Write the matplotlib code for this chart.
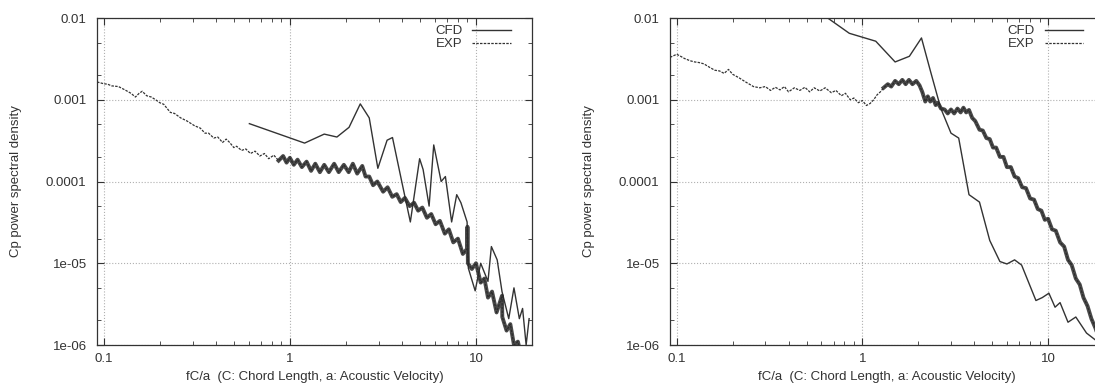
import matplotlib
matplotlib.use("Agg")
import matplotlib.pyplot as plt
from matplotlib.ticker import FixedLocator, FixedFormatter, LogLocator, NullFormatter

plt.rcParams['font.family'] = ['Liberation Sans', 'DejaVu Sans']

# ---- left panel data ----
cfd1_x = [0.606, 1.2, 1.53, 1.79, 2.08, 2.39, 2.67, 2.97, 3.33, 3.56, 4.03, 4.44, 4.98, 5.2, 5.6,
          5.93, 6.5, 6.85, 7.4, 7.88, 8.3, 8.96, 9.1, 9.9, 10.6, 11.6, 12.1, 13.0, 13.8, 15.0,
          16.0, 17.1, 17.8, 18.6, 19.3]
cfd1_y = [5.1e-4, 2.95e-4, 3.8e-4, 3.5e-4, 4.6e-4, 8.9e-4, 6.0e-4, 1.45e-4, 3.2e-4, 3.45e-4,
          9.0e-5, 3.2e-5, 1.9e-4, 1.4e-4, 5.0e-5, 2.8e-4, 1.0e-4, 1.15e-4, 3.2e-5, 6.9e-5,
          5.5e-5, 3.2e-5, 8.7e-6, 4.6e-6, 1.0e-5, 6.0e-6, 1.6e-5, 1.1e-5, 4.5e-6, 2.1e-6,
          5.0e-6, 2.1e-6, 2.8e-6, 1.0e-6, 2.1e-6]

exp1_x = [0.092, 0.1, 0.105, 0.11, 0.12, 0.13, 0.14, 0.148, 0.155, 0.161, 0.17, 0.18, 0.19, 0.2,
          0.21, 0.228, 0.24, 0.259, 0.28, 0.308, 0.33, 0.35, 0.366, 0.39, 0.41, 0.435, 0.455,
          0.475, 0.5, 0.517, 0.55, 0.58, 0.614, 0.65, 0.69, 0.73, 0.77, 0.82, 0.87, 0.92, 0.96,
          1.0, 1.05, 1.1, 1.16, 1.23, 1.3, 1.37, 1.45, 1.53, 1.62, 1.73, 1.83, 1.95, 2.07, 2.18,
          2.3, 2.45, 2.55, 2.67, 2.8, 2.95, 3.17, 3.35, 3.55, 3.75, 3.94, 4.15, 4.4, 4.65, 4.89,
          5.15, 5.45, 5.75, 6.07, 6.4, 6.8, 7.15, 7.55, 8.0, 8.5, 8.96, 9.0, 9.05, 9.5, 10.0,
          10.6, 11.1, 11.6, 12.2, 12.9, 13.8, 13.85, 14.6, 15.3, 16.0, 16.8, 17.7]
exp1_y = [1.65e-3, 1.57e-3, 1.55e-3, 1.48e-3, 1.45e-3, 1.32e-3, 1.2e-3, 1.08e-3, 1.2e-3, 1.27e-3,
          1.12e-3, 1.08e-3, 1.0e-3, 9.2e-4, 8.8e-4, 7.0e-4, 6.8e-4, 6.0e-4, 5.5e-4, 4.8e-4,
          4.5e-4, 3.9e-4, 3.9e-4, 3.4e-4, 3.5e-4, 3.0e-4, 3.3e-4, 3.0e-4, 2.6e-4, 2.7e-4,
          2.4e-4, 2.5e-4, 2.2e-4, 2.35e-4, 2.05e-4, 2.2e-4, 1.9e-4, 2.1e-4, 1.8e-4, 2.05e-4,
          1.7e-4, 1.95e-4, 1.6e-4, 1.85e-4, 1.5e-4, 1.75e-4, 1.35e-4, 1.65e-4, 1.3e-4, 1.6e-4,
          1.3e-4, 1.65e-4, 1.3e-4, 1.6e-4, 1.3e-4, 1.65e-4, 1.25e-4, 1.55e-4, 1.15e-4, 1.15e-4,
          9.0e-5, 1.0e-4, 7.5e-5, 8.5e-5, 6.5e-5, 7.0e-5, 5.6e-5, 6.3e-5, 5.0e-5, 5.5e-5,
          4.4e-5, 4.8e-5, 3.6e-5, 4.0e-5, 3.0e-5, 3.3e-5, 2.3e-5, 2.6e-5, 1.8e-5, 2.0e-5,
          1.3e-5, 1.5e-5, 2.8e-5, 1.0e-5, 8.5e-6, 1.0e-5, 5.8e-6, 6.5e-6, 3.8e-6, 4.5e-6,
          2.5e-6, 4.0e-6, 2.2e-6, 1.5e-6, 1.8e-6, 1.0e-6, 1.1e-6, 6.5e-7]

# ---- right panel data ----
cfd2_x = [0.65, 0.85, 1.18, 1.5, 1.79, 2.08, 2.33, 2.64, 3.0, 3.3, 3.75, 4.27, 4.85, 5.5, 6.0,
          6.6, 7.2, 8.6, 9.3, 10.1, 10.9, 11.6, 12.8, 14.1, 16.1, 18.0, 20.0]
cfd2_y = [1.0e-2, 6.5e-3, 5.2e-3, 2.9e-3, 3.4e-3, 5.7e-3, 2.2e-3, 7.9e-4, 3.9e-4, 3.4e-4,
          6.9e-5, 5.6e-5, 1.9e-5, 1.05e-5, 9.8e-6, 1.1e-5, 9.5e-6, 3.5e-6, 3.8e-6, 4.3e-6,
          2.9e-6, 3.3e-6, 1.9e-6, 2.2e-6, 1.4e-6, 1.15e-6, 1.0e-6]

exp2_x = [0.092, 0.1, 0.105, 0.11, 0.118, 0.125, 0.132, 0.14, 0.15, 0.16, 0.17, 0.18, 0.19, 0.2,
          0.217, 0.235, 0.259, 0.28, 0.30, 0.32, 0.34, 0.36, 0.38, 0.40, 0.43, 0.46, 0.49, 0.52,
          0.55, 0.59, 0.63, 0.68, 0.72, 0.77, 0.81, 0.86, 0.9, 0.95, 1.0, 1.05, 1.1, 1.15, 1.2,
          1.25, 1.3, 1.37, 1.43, 1.5, 1.57, 1.64, 1.71, 1.78, 1.86, 1.95, 2.03, 2.1, 2.18, 2.25,
          2.32, 2.4, 2.48, 2.55, 2.65, 2.77, 2.88, 3.0, 3.12, 3.25, 3.38, 3.5, 3.62, 3.75, 3.9,
          4.05, 4.27, 4.45, 4.65, 4.85, 5.05, 5.25, 5.5, 5.75, 6.0, 6.3, 6.6, 6.9, 7.25, 7.6,
          8.0, 8.4, 8.8, 9.2, 9.6, 10.0, 10.5, 11.0, 11.6, 12.2, 12.8, 13.4, 14.1, 14.8, 15.5,
          16.3, 17.1, 18.0, 19.0, 20.0]
exp2_y = [3.3e-3, 3.6e-3, 3.4e-3, 3.2e-3, 3.0e-3, 2.9e-3, 2.85e-3, 2.75e-3, 2.5e-3, 2.3e-3,
          2.25e-3, 2.1e-3, 2.35e-3, 2.05e-3, 1.85e-3, 1.65e-3, 1.45e-3, 1.4e-3, 1.45e-3, 1.3e-3,
          1.42e-3, 1.32e-3, 1.45e-3, 1.25e-3, 1.4e-3, 1.3e-3, 1.42e-3, 1.25e-3, 1.4e-3, 1.28e-3,
          1.4e-3, 1.22e-3, 1.3e-3, 1.12e-3, 1.2e-3, 1.0e-3, 1.05e-3, 9.2e-4, 9.8e-4, 8.5e-4,
          9.0e-4, 1.0e-3, 1.15e-3, 1.25e-3, 1.4e-3, 1.55e-3, 1.45e-3, 1.7e-3, 1.55e-3, 1.75e-3,
          1.55e-3, 1.75e-3, 1.55e-3, 1.7e-3, 1.5e-3, 1.25e-3, 9.5e-4, 1.1e-3, 9.5e-4, 1.05e-3,
          8.6e-4, 9.2e-4, 7.8e-4, 7.6e-4, 6.8e-4, 7.6e-4, 6.8e-4, 7.8e-4, 7.0e-4, 8.0e-4,
          7.0e-4, 7.5e-4, 6.0e-4, 5.5e-4, 4.3e-4, 4.2e-4, 3.4e-4, 3.3e-4, 2.6e-4, 2.6e-4,
          2.0e-4, 2.0e-4, 1.5e-4, 1.5e-4, 1.15e-4, 1.1e-4, 8.5e-5, 8.3e-5, 6.2e-5, 6.0e-5,
          4.6e-5, 4.4e-5, 3.4e-5, 3.5e-5, 2.6e-5, 2.5e-5, 1.8e-5, 1.6e-5, 1.1e-5, 9.5e-6,
          6.5e-6, 5.5e-6, 3.8e-6, 3.0e-6, 2.1e-6, 1.6e-6, 1.1e-6, 8e-7]

y_ticks = [1e-6, 1e-5, 1e-4, 1e-3, 1e-2]
y_labels = ['1e-06', '1e-05', '0.0001', '0.001', '0.01']
x_ticks = [0.1, 1, 10]
x_labels = ['0.1', '1', '10']

ink = '#333333'
fs = 9.5
fig = plt.figure(figsize=(10.95, 3.87), dpi=100)
ax1 = fig.add_axes([97 / 1095, 1 - 345 / 387, 435 / 1095, 327 / 387])
ax2 = fig.add_axes([670 / 1095, 1 - 345 / 387, 434 / 1095, 327 / 387])

# (axes, cfd, exp, where the exp trace gets dense/noisy)
panels = [(ax1, cfd1_x, cfd1_y, exp1_x, exp1_y, 0.85), (ax2, cfd2_x, cfd2_y, exp2_x, exp2_y, 1.3)]
for ax, cx, cy, ex, ey, dense in panels:
    ax.plot(cx, cy, color=ink, lw=1.0, label='CFD')
    ax.plot(ex, ey, color=ink, lw=0.9, linestyle=(0, (2, 1)), label='EXP')
    # the noisy part of the measurement looks like a thick band
    hx = [x for x in ex if x >= dense]
    hy = [y for x, y in zip(ex, ey) if x >= dense]
    ax.plot(hx, hy, color='#2a2a2a', lw=2.8, alpha=0.85)
    ax.set_xscale('log')
    ax.set_yscale('log')
    ax.set_xlim(0.092, 20)
    ax.set_ylim(1e-6, 1e-2)
    ax.xaxis.set_major_locator(FixedLocator(x_ticks))
    ax.xaxis.set_major_formatter(FixedFormatter(x_labels))
    ax.yaxis.set_major_locator(FixedLocator(y_ticks))
    ax.yaxis.set_major_formatter(FixedFormatter(y_labels))
    ax.xaxis.set_minor_locator(LogLocator(base=10, subs=range(2, 10)))
    ax.yaxis.set_minor_locator(LogLocator(base=10, subs=[2, 5]))
    ax.xaxis.set_minor_formatter(NullFormatter())
    ax.yaxis.set_minor_formatter(NullFormatter())
    ax.tick_params(which='both', direction='in', top=True, right=True, colors=ink,
                   labelsize=fs, labelcolor=ink)
    ax.tick_params(which='major', length=5, width=0.8)
    ax.tick_params(axis='y', which='major', pad=7.5)
    ax.tick_params(axis='x', which='major', pad=6)
    ax.tick_params(which='minor', length=3, width=0.6)
    ax.grid(True, which='major', color='#b0b0b0', linestyle=':', linewidth=0.8)
    for s in ax.spines.values():
        s.set_color(ink)
        s.set_linewidth(0.9)
    ax.set_xlabel('fC/a  (C: Chord Length, a: Acoustic Velocity)', fontsize=fs, color=ink, labelpad=4)
    ax.set_ylabel('Cp power spectral density', fontsize=fs, color=ink, labelpad=17)
    ax.legend(loc='upper right', bbox_to_anchor=(1 - 14 / 435, 1.0), frameon=False,
              markerfirst=False, fontsize=fs, handlelength=2.9, labelspacing=0.05,
              borderaxespad=0.15, handletextpad=0.75, labelcolor=ink)

fig.savefig('out.png', dpi=100)
